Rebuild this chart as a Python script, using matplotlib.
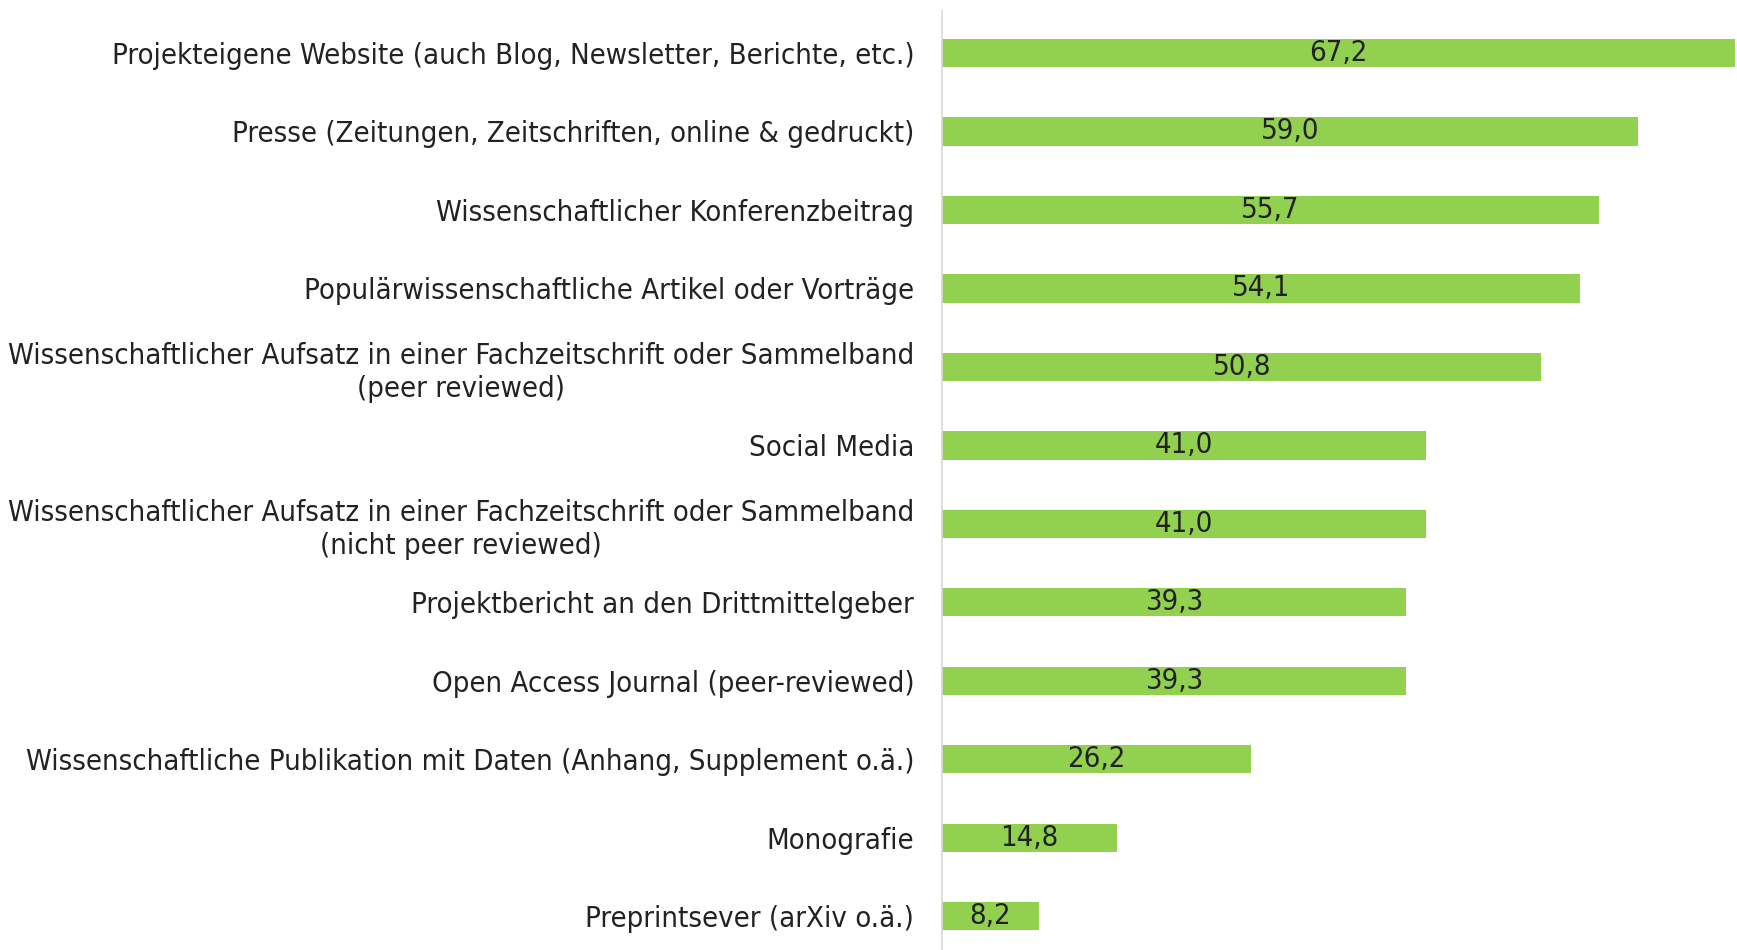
import matplotlib
matplotlib.use('Agg')
import matplotlib.pyplot as plt
import numpy as np

categories = [
    'Projekteigene Website (auch Blog, Newsletter, Berichte, etc.)',
    'Presse (Zeitungen, Zeitschriften, online & gedruckt)',
    'Wissenschaftlicher Konferenzbeitrag',
    'Populärwissenschaftliche Artikel oder Vorträge',
    'Wissenschaftlicher Aufsatz in einer Fachzeitschrift oder Sammelband\n(peer reviewed)',
    'Social Media',
    'Wissenschaftlicher Aufsatz in einer Fachzeitschrift oder Sammelband\n(nicht peer reviewed)',
    'Projektbericht an den Drittmittelgeber',
    'Open Access Journal (peer-reviewed)',
    'Wissenschaftliche Publikation mit Daten (Anhang, Supplement o.ä.)',
    'Monografie',
    'Preprintsever (arXiv o.ä.)',
]
values = [67.2, 59.0, 55.7, 54.1, 50.8, 41.0, 41.0, 39.3, 39.3, 26.2, 14.8, 8.2]

plt.rcParams['font.family'] = ['DejaVu Sans']
plt.rcParams['font.stretch'] = 'condensed'

W, H = 1737, 950
fig = plt.figure(figsize=(W / 100, H / 100), dpi=100)
ax = fig.add_axes([942 / W, 0, (1735 - 942) / W, 939 / H])

y = np.arange(len(categories))
ax.barh(y, values, height=0.36, color='#92D050')
for yi, v in zip(y, values):
    ax.text(v / 2, yi, f'{v:.1f}'.replace('.', ','), ha='center', va='center',
            fontsize=21, color='#222222')

ax.set_xlim(0, 67.2)
ax.set_ylim(11.43, -0.535)
ax.set_yticks(y)
ax.set_yticklabels(categories, fontsize=21, color='#222222', multialignment='center',
                   linespacing=1.25)
ax.tick_params(axis='y', length=0, pad=20)
ax.set_xticks([])
for s in ['top', 'right', 'bottom']:
    ax.spines[s].set_visible(False)
ax.spines['left'].set_color('#d9d9d9')
ax.spines['left'].set_linewidth(1.2)

fig.savefig('out.png', dpi=100)
